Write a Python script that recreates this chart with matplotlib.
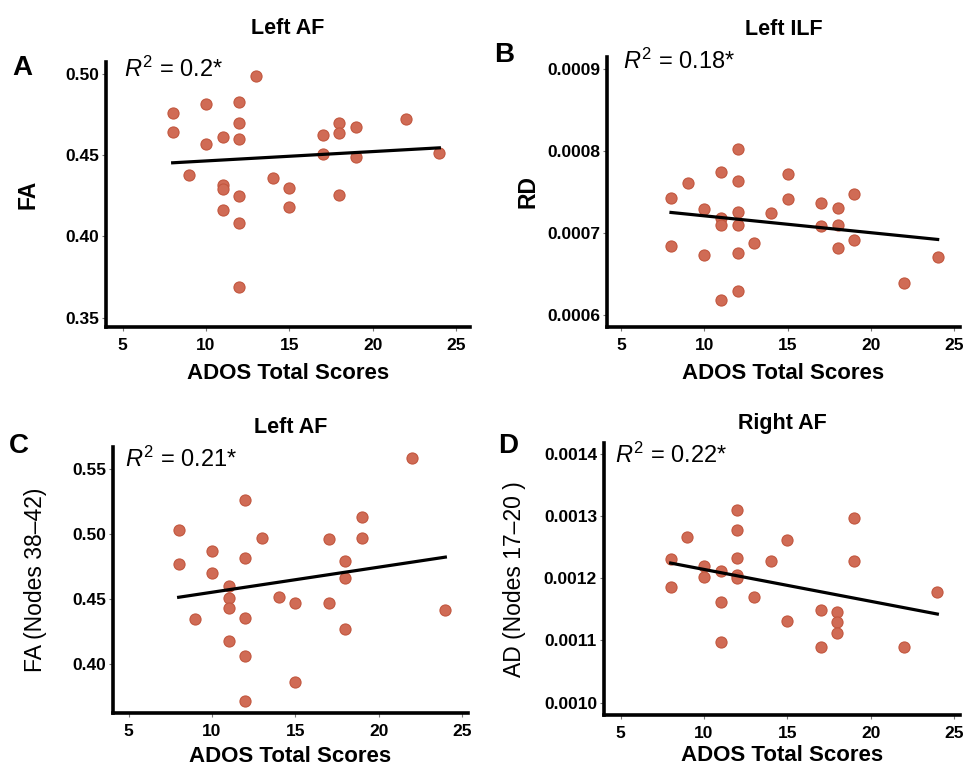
import numpy as np
import matplotlib
matplotlib.use("Agg")
import matplotlib.pyplot as plt
from matplotlib.ticker import FormatStrFormatter

plt.rcParams['font.family'] = ['Liberation Sans', 'DejaVu Sans']
plt.rcParams['mathtext.fontset'] = 'custom'
plt.rcParams['mathtext.rm'] = 'Liberation Sans'
plt.rcParams['mathtext.it'] = 'Liberation Sans:italic'

# ADOS scores (x) and tract measures (y) per panel
ados_a = [8, 8, 9, 10, 10, 11, 11, 11, 11, 12, 12, 12, 12, 12, 12, 13, 14, 15, 15,
          17, 17, 18, 18, 18, 19, 19, 22, 24]
fa_a = [0.476, 0.4645, 0.4375, 0.4816, 0.4568, 0.461, 0.4314, 0.4293, 0.416, 0.483,
        0.470, 0.4598, 0.425, 0.4084, 0.3686, 0.4988, 0.4359, 0.430, 0.4184,
        0.4625, 0.4508, 0.4695, 0.4639, 0.4252, 0.4672, 0.4488, 0.4721, 0.4512]
fit_a = [0.4453, 0.4545]  # fitted value at x=8 and x=24

ados_b = [8, 8, 9, 10, 10, 11, 11, 11, 11, 12, 12, 12, 12, 12, 12, 13, 14, 15, 15,
          17, 17, 18, 18, 18, 19, 19, 22, 24]
rd_b = [0.000743, 0.000684, 0.000761, 0.000729, 0.000673, 0.000774, 0.000718, 0.000710,
        0.000618, 0.000802, 0.000764, 0.000726, 0.000710, 0.000676, 0.000629, 0.000688,
        0.000724, 0.000772, 0.000741, 0.000737, 0.000709, 0.000731, 0.000710, 0.000682,
        0.000747, 0.000691, 0.000639, 0.000671]
fit_b = [0.000725, 0.000692]

ados_c = [8, 8, 9, 10, 10, 11, 11, 11, 11, 12, 12, 12, 12, 12, 13, 14, 15, 15,
          17, 17, 18, 18, 18, 19, 19, 22, 24]
fa_c = [0.5026, 0.477, 0.4344, 0.487, 0.4702, 0.4602, 0.451, 0.4434, 0.418, 0.5263,
        0.4811, 0.4352, 0.4066, 0.3717, 0.4969, 0.4513, 0.4467, 0.3862, 0.4962, 0.4467,
        0.4791, 0.4663, 0.4273, 0.513, 0.4969, 0.5579, 0.4416]
fit_c = [0.4513, 0.4821]

ados_d = [8, 8, 9, 10, 10, 11, 11, 11, 12, 12, 12, 12, 12, 13, 14, 15, 15,
          17, 17, 18, 18, 18, 19, 19, 22, 24]
ad_d = [0.0012305, 0.0011856, 0.0012658, 0.0012187, 0.0012011, 0.0012118, 0.001162,
        0.0010968, 0.0013096, 0.0012775, 0.0012321, 0.0012053, 0.0012, 0.0011695,
        0.0012278, 0.0012615, 0.0011316, 0.001149, 0.0010888, 0.0011449, 0.0011289,
        0.0011118, 0.0012973, 0.0012278, 0.0010888, 0.0011775]
fit_d = [0.0012241, 0.0011422]

W, H = 965, 771
fig = plt.figure(figsize=(W / 100, H / 100), dpi=100)


def px_axes(left, top, right, bottom):
    return fig.add_axes([left / W, 1 - bottom / H, (right - left) / W, (bottom - top) / H])


panels = [
    dict(box=(106, 62, 470, 327), x=ados_a, y=fa_a, fit=fit_a, xlim=(4.0, 25.84),
         ylim=(0.3443, 0.5073), yticks=[0.35, 0.40, 0.45, 0.50], fmt='%.2f',
         title='Left AF', tpad=20, ylabel='FA', ybold=True, r2=r'$R^2$ = 0.2*',
         r2pos=(0.05, 1.02), letter='A', letterpos=(12, 75), ylabx=28, xpad=7),
    dict(box=(607, 57, 960, 327), x=ados_b, y=rd_b, fit=fit_b, xlim=(4.16, 25.34),
         ylim=(0.000585, 0.000915), yticks=[0.0006, 0.0007, 0.0008, 0.0009], fmt='%.4f',
         title='Left ILF', tpad=16, ylabel='RD', ybold=True, r2=r'$R^2$ = 0.18*',
         r2pos=(0.045, 1.03), letter='B', letterpos=(494, 62), ylabx=528, xpad=7),
    dict(box=(113, 447, 468, 713), x=ados_c, y=fa_c, fit=fit_c, xlim=(4.06, 25.36),
         ylim=(0.3625, 0.5666), yticks=[0.40, 0.45, 0.50, 0.55], fmt='%.2f',
         title='Left AF', tpad=10, ylabel='FA (Nodes 38\u201342)', ybold=False,
         r2=r'$R^2$ = 0.21*', r2pos=(0.034, 1.0), letter='C', letterpos=(9, 453),
         ylabx=36, xpad=5),
    dict(box=(604, 443, 960, 715), x=ados_d, y=ad_d, fit=fit_d, xlim=(4.0, 25.36),
         ylim=(0.00098, 0.001417), yticks=[0.0010, 0.0011, 0.0012, 0.0013, 0.0014],
         fmt='%.4f', title='Right AF', tpad=10, ylabel='AD (Nodes 17\u201320 )',
         ybold=False, r2=r'$R^2$ = 0.22*', r2pos=(0.031, 1.0), letter='D',
         letterpos=(498, 453), ylabx=514, xpad=3),
]

for p in panels:
    ax = px_axes(*p['box'])
    ax.scatter(p['x'], p['y'], s=64, color='#d06b55', edgecolors='#c2573f',
               linewidths=0.8, zorder=3)
    xs = [min(p['x']), max(p['x'])]
    ax.plot(xs, p['fit'], color='black', lw=2.3, zorder=4)
    ax.set_xlim(*p['xlim'])
    ax.set_ylim(*p['ylim'])
    ax.set_xticks([5, 10, 15, 20, 25])
    ax.set_yticks(p['yticks'])
    ax.yaxis.set_major_formatter(FormatStrFormatter(p['fmt']))
    for s in ['top', 'right']:
        ax.spines[s].set_visible(False)
    for s in ['left', 'bottom']:
        ax.spines[s].set_linewidth(2.6)
    ax.tick_params(length=3, width=0.8, color='#777777', labelsize=12.5, pad=2)
    ax.tick_params(axis='x', pad=5)
    for lab in ax.get_xticklabels() + ax.get_yticklabels():
        lab.set_fontweight('bold')
    ax.set_xlabel('ADOS Total Scores', fontsize=16, fontweight='bold', labelpad=p['xpad'])
    ax.set_title(p['title'], fontsize=15.5, fontweight='bold', pad=p['tpad'])
    ax.text(p['r2pos'][0], p['r2pos'][1], p['r2'], transform=ax.transAxes,
            fontsize=17, ha='left', va='top')
    left, top, right, bottom = p['box']
    fig.text(p['ylabx'] / W, 1 - (top + bottom) / 2 / H, p['ylabel'], rotation=90,
             fontsize=16.5, fontweight='bold' if p['ybold'] else 'normal',
             ha='center', va='center')
    fig.text(p['letterpos'][0] / W, 1 - p['letterpos'][1] / H, p['letter'],
             fontsize=20, fontweight='bold', ha='left', va='baseline')

fig.savefig('out.png', dpi=100)
